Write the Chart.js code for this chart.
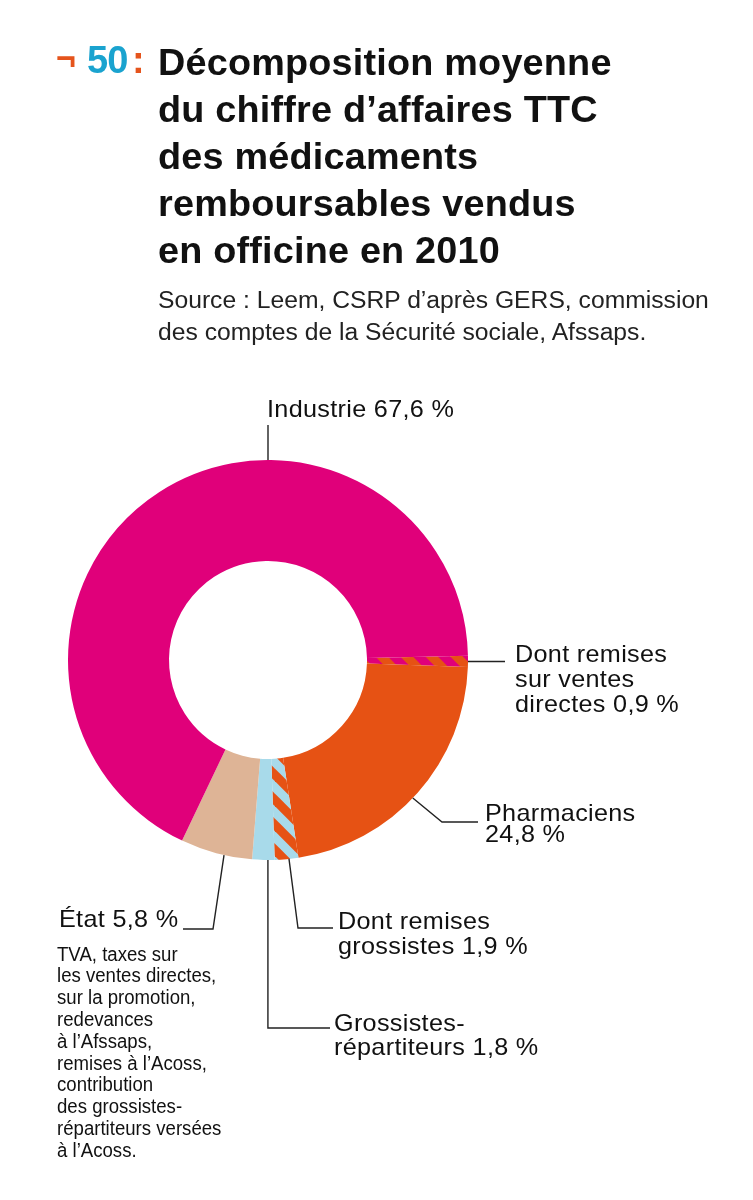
<!DOCTYPE html>
<html><head><meta charset="utf-8">
<script src="https://cdn.jsdelivr.net/npm/chart.js@4/dist/chart.umd.min.js"></script>
<style>
html,body{margin:0;padding:0;background:#fff;}
body{width:753px;height:1200px;position:relative;overflow:hidden;font-family:"Liberation Sans",Arial,sans-serif;color:#111;}
#wrap{position:absolute;left:0;top:0;width:753px;height:1200px;}
.t{position:absolute;white-space:nowrap;}
#mark{left:56px;top:38px;font-size:34px;color:#e5541c;font-weight:bold;}
#num{left:87px;top:39px;font-size:38px;color:#1aa3cf;font-weight:bold;letter-spacing:-1px;}
#colon{left:132px;top:39px;font-size:38px;color:#e5541c;font-weight:bold;}
#title{left:158px;top:39px;font-size:37.8px;font-weight:bold;line-height:47px;letter-spacing:0.2px;}
#src{left:158px;top:284px;font-size:23.5px;line-height:32px;color:#222;transform:scaleX(1.05);transform-origin:0 0;}
</style></head>
<body>
<div id="wrap"><canvas id="c" width="753" height="1200"></canvas></div>
<div class="t" id="mark">¬</div>
<div class="t" id="num">50</div>
<div class="t" id="colon">:</div>
<div class="t" id="title">Décomposition moyenne<br>du chiffre d’affaires TTC<br>des médicaments<br>remboursables vendus<br>en officine en 2010</div>
<div class="t" id="src">Source : Leem, CSRP d’après GERS, commission<br>des comptes de la Sécurité sociale, Afssaps.</div>
<script>
// ---- data (clockwise from the 3 o'clock hatched strip) ----
const categories = ['Dont remises sur ventes directes', 'Pharmaciens', 'Dont remises grossistes', 'Grossistes-répartiteurs', 'État', 'Industrie'];
const values = [0.9, 22.0, 1.9, 1.8, 5.8, 67.6];
const labelLines = [
  ['Dont remises', 'sur ventes', 'directes 0,9 %'],
  ['Pharmaciens', '24,8 %'],
  ['Dont remises', 'grossistes 1,9 %'],
  ['Grossistes-', 'répartiteurs 1,8 %'],
  ['État 5,8 %'],
  ['Industrie 67,6 %']
];
const etatNote = ['TVA, taxes sur', 'les ventes directes,', 'sur la promotion,', 'redevances', 'à l’Afssaps,', 'remises à l’Acoss,', 'contribution', 'des grossistes-', 'répartiteurs versées', 'à l’Acoss.'];

// ---- styles ----
const MAGENTA = 'rgb(224,0,122)';
const ORANGE = 'rgb(230,82,20)';
const TAN = 'rgb(222,180,150)';
const BLUE = 'rgb(168,218,234)';

function hatch(base, stripe){
  const s = 25, c = document.createElement('canvas');
  c.width = s; c.height = s;
  const g = c.getContext('2d');
  g.fillStyle = base; g.fillRect(0,0,s,s);
  g.strokeStyle = stripe; g.lineWidth = 9;
  for (let k=-1;k<=1;k++){ g.beginPath(); g.moveTo(k*s-3,-3); g.lineTo(k*s+s+3,s+3); g.stroke(); }
  return g.createPattern(c,'repeat');
}
const colors = [hatch(MAGENTA, ORANGE), ORANGE, hatch(BLUE, ORANGE), BLUE, TAN, MAGENTA];

// label layout: anchor fraction within slice (or absolute angle), path points, text position
const layout = [
  {f:0.5, path:[[505,null]], text:[515,655], lh:25},
  {f:0.525, path:[[442,822],[478,822]], text:[485,814], lh:21.5},
  {f:0.4, path:[[298,928],[333,928]], text:[338,922], lh:25},
  {f:0.3, path:[[null,1028],[330,1028]], text:[334,1024], lh:24.5},
  {f:0.39, path:[[213,929],[183,929]], text:[59,920], lh:24},
  {angle:-Math.PI/2, path:[[null,425]], text:[267,410], lh:24}
];

const labelPlugin = {
  id:'labels',
  afterDraw(chart){
    const ctx = chart.ctx, meta = chart.getDatasetMeta(0);
    ctx.save();
    ctx.strokeStyle = '#222'; ctx.lineWidth = 1.4;
    ctx.fillStyle = '#111';
    ctx.textBaseline = 'middle';
    ctx.textAlign = 'left';
    layout.forEach((L,i)=>{
      const a = meta.data[i];
      const ang = (L.angle!==undefined) ? L.angle : a.startAngle + (a.endAngle-a.startAngle)*L.f;
      const ax = a.x + Math.cos(ang)*a.outerRadius, ay = a.y + Math.sin(ang)*a.outerRadius;
      ctx.beginPath(); ctx.moveTo(ax, ay);
      L.path.forEach(p=>{ ctx.lineTo(p[0]===null?ax:p[0], p[1]===null?ay:p[1]); });
      ctx.stroke();
      ctx.font = '24px "Liberation Sans", Arial, sans-serif';
      ctx.letterSpacing = '0.3px';
      labelLines[i].forEach((t,j)=>{
        ctx.save();
        ctx.translate(L.text[0], L.text[1]+j*L.lh);
        ctx.scale(1.05, 1);
        ctx.fillText(t, 0, 0);
        ctx.restore();
      });
    });
    ctx.letterSpacing = '0px';
    ctx.font = '20px "Liberation Sans", Arial, sans-serif';
    etatNote.forEach((t,j)=>{
      ctx.save();
      ctx.translate(57, 955 + j*21.8);
      ctx.scale(0.93, 1);
      ctx.fillText(t, 0, 0);
      ctx.restore();
    });
    ctx.restore();
  }
};

new Chart(document.getElementById('c'), {
  type:'doughnut',
  data:{ labels:categories, datasets:[{ data:values, backgroundColor:colors, borderWidth:0, hoverOffset:0 }]},
  options:{
    responsive:false, animation:false, rotation:88.8, cutout:'49.5%',
    layout:{ padding:{ left:68, right:285, top:460, bottom:340 } },
    plugins:{ legend:{display:false}, tooltip:{enabled:false} }
  },
  plugins:[labelPlugin]
});
</script>
</body></html>
